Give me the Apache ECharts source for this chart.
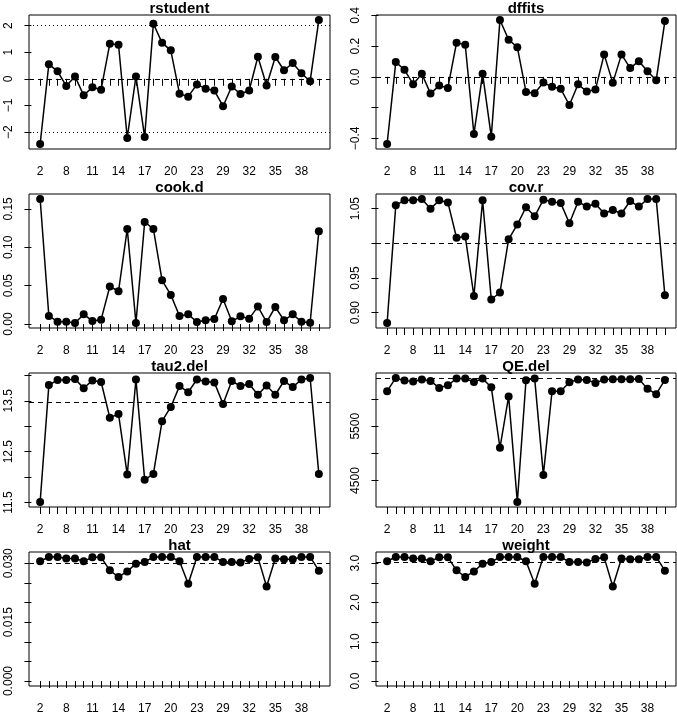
<!DOCTYPE html>
<html>
<head>
<meta charset="utf-8">
<script src="https://cdn.jsdelivr.net/npm/echarts@6/dist/echarts.min.js"></script>
<style>
  html, body { margin: 0; padding: 0; background: #fff; }
  #chart { width: 677px; height: 716px; }
</style>
</head>
<body>
<div id="chart"></div>
<script>
// study labels (only every third one is printed, like R drops overlapping labels)
const ids = [2, 4, 6, 8, 9, 10, 11, 12, 13, 14, 15, 16, 17, 18, 19, 20, 21, 22, 23,
  25, 27, 29, 30, 31, 32, 33, 34, 35, 36, 37, 38, 39, 40];

const rstudent = [-2.45, 0.55, 0.28, -0.27, 0.09, -0.62, -0.32, -0.41, 1.32, 1.28, -2.22,
  0.09, -2.19, 2.07, 1.35, 1.07, -0.56, -0.67, -0.21, -0.37, -0.44, -1.03, -0.29, -0.57,
  -0.44, 0.83, -0.25, 0.82, 0.32, 0.59, 0.21, -0.09, 2.21];
const dffits = [-0.437, 0.096, 0.046, -0.048, 0.020, -0.109, -0.057, -0.072, 0.222, 0.209,
  -0.372, 0.020, -0.389, 0.370, 0.241, 0.193, -0.098, -0.107, -0.037, -0.065, -0.078,
  -0.183, -0.048, -0.096, -0.083, 0.146, -0.039, 0.146, 0.057, 0.102, 0.037, -0.022, 0.363];
const cookD = [0.163, 0.0105, 0.003, 0.003, 0.0013, 0.0126, 0.004, 0.0057, 0.049, 0.0427,
  0.124, 0.0013, 0.133, 0.124, 0.057, 0.038, 0.0105, 0.0126, 0.0026, 0.0048, 0.0065,
  0.0327, 0.0035, 0.010, 0.007, 0.0227, 0.0026, 0.0222, 0.0048, 0.0126, 0.003, 0.0017, 0.121];
const covR = [0.885, 1.055, 1.062, 1.062, 1.064, 1.050, 1.062, 1.059, 1.008, 1.010, 0.924,
  1.062, 0.919, 0.929, 1.006, 1.027, 1.052, 1.039, 1.063, 1.060, 1.058, 1.029, 1.060,
  1.053, 1.057, 1.043, 1.048, 1.043, 1.061, 1.053, 1.064, 1.064, 0.925];
const tau2Del = [11.51, 13.81, 13.91, 13.91, 13.93, 13.75, 13.90, 13.87, 13.17, 13.24, 12.05,
  13.92, 11.95, 12.06, 13.10, 13.38, 13.79, 13.67, 13.92, 13.88, 13.86, 13.44, 13.89,
  13.79, 13.83, 13.62, 13.80, 13.62, 13.89, 13.77, 13.92, 13.95, 12.06];
const qeDel = [6146, 6390, 6341, 6323, 6360, 6335, 6207, 6256, 6378, 6378, 6317, 6378, 6220,
  5104, 6049, 4104, 6348, 6378, 4604, 6146, 6146, 6311, 6360, 6354, 6299, 6360, 6366,
  6366, 6366, 6372, 6189, 6091, 6354];
const hat = [0.0305, 0.0316, 0.0316, 0.0312, 0.0312, 0.0305, 0.0315, 0.0315, 0.0282, 0.0265,
  0.0279, 0.0299, 0.0303, 0.0316, 0.0316, 0.0316, 0.0305, 0.0248, 0.0316, 0.0316, 0.0316,
  0.0303, 0.0303, 0.0302, 0.0311, 0.0315, 0.0241, 0.0312, 0.0310, 0.0310, 0.0316, 0.0316, 0.0281];
const weight = [3.05, 3.16, 3.16, 3.12, 3.12, 3.05, 3.15, 3.15, 2.82, 2.65, 2.79, 2.99, 3.03,
  3.16, 3.16, 3.16, 3.05, 2.48, 3.16, 3.16, 3.16, 3.03, 3.03, 3.02, 3.11, 3.15, 2.41,
  3.12, 3.10, 3.10, 3.16, 3.16, 2.81];

// reference lines
const tau2Full = 13.47;
const qeFull = 6378;
const hatMean = 1 / 33;
const weightMean = 100 / 33;

// y ticks and the labels R kept
const yTicks = {
  rstudent: [-2, -1, 0, 1, 2],
  dffits: [-0.4, -0.2, 0, 0.2, 0.4],
  cookD: [0, 0.05, 0.1, 0.15],
  covR: [0.9, 0.95, 1, 1.05],
  tau2Del: [11.5, 12, 12.5, 13, 13.5, 14],
  qeDel: [4500, 5000, 5500, 6000],
  hat: [0, 0.005, 0.01, 0.015, 0.02, 0.025, 0.03],
  weight: [0, 0.5, 1, 1.5, 2, 2.5, 3]
};
const yLabels = {
  rstudent: [-2, -1, 0, 1, 2],
  dffits: [-0.4, 0, 0.2, 0.4],
  cookD: [0, 0.05, 0.1, 0.15],
  covR: [0.9, 0.95, 1.05],
  tau2Del: [11.5, 12.5, 13.5],
  qeDel: [4500, 5500],
  hat: [0, 0.015, 0.03],
  weight: [0, 1, 2, 3]
};

const font = 'Liberation Sans, Helvetica, Arial, sans-serif';
const k = ids.length;
const xTicks = ids.map((d, i) => i + 1);
const xLabels = xTicks.filter((d, i) => i % 3 === 0);

function rng(vals, lo) {
  let a = Math.min(...vals), b = Math.max(...vals);
  if (lo !== undefined) a = Math.min(a, lo);
  const d = (b - a) * 0.04;
  return [a - d, b + d];
}
function fmt(dec) {
  return v => v.toFixed(dec).replace('-', '\u2212');
}

const panels = [
  { name: 'rstudent', vals: rstudent, key: 'rstudent', dec: 0,
    lines: [{ y: 0, t: 'dashed' }, { y: 2, t: 'dotted' }, { y: -2, t: 'dotted' }] },
  { name: 'dffits', vals: dffits, key: 'dffits', dec: 1, lines: [{ y: 0, t: 'dashed' }] },
  { name: 'cook.d', vals: cookD, key: 'cookD', dec: 2, lines: [] },
  { name: 'cov.r', vals: covR, key: 'covR', dec: 2, lines: [{ y: 1, t: 'dashed' }] },
  { name: 'tau2.del', vals: tau2Del, key: 'tau2Del', dec: 1, lines: [{ y: tau2Full, t: 'dashed' }] },
  { name: 'QE.del', vals: qeDel, key: 'qeDel', dec: 0, lines: [{ y: qeFull, t: 'dashed' }] },
  { name: 'hat', vals: hat, key: 'hat', dec: 3, lo: 0, lines: [{ y: hatMean, t: 'dashed' }] },
  { name: 'weight', vals: weight, key: 'weight', dec: 1, lo: 0, lines: [{ y: weightMean, t: 'dashed' }] }
];

const colLeft = [29, 376];
const colWidth = [301, 300];
const rowTop = [15, 194, 373, 552];
const boxH = 134;

const grid = [], xAxis = [], yAxis = [], series = [], title = [];
panels.forEach((p, i) => {
  const c = i % 2, r = Math.floor(i / 2);
  grid.push({
    left: colLeft[c], top: rowTop[r], width: colWidth[c], height: boxH,
    show: true, borderColor: '#000', borderWidth: 1, backgroundColor: 'transparent'
  });
  title.push({
    text: p.name, left: colLeft[c] + colWidth[c] / 2, top: rowTop[r] - 14,
    textAlign: 'center', padding: 0,
    textStyle: { fontFamily: font, fontSize: 15, fontWeight: 'bold', color: '#000' }
  });
  xAxis.push({
    type: 'value', gridIndex: i, min: 1 - 0.04 * (k - 1), max: k + 0.04 * (k - 1),
    axisLine: { show: false },
    splitLine: { show: false },
    axisTick: { show: true, length: 7, inside: false, customValues: xTicks,
      lineStyle: { color: '#000', width: 1 } },
    axisLabel: { customValues: xLabels, formatter: v => String(ids[Math.round(v) - 1]),
      margin: 17, fontFamily: font, fontSize: 12, color: '#000' }
  });
  const yr = rng(p.vals, p.lo);
  yAxis.push({
    type: 'value', gridIndex: i, min: yr[0], max: yr[1],
    axisLine: { show: false },
    splitLine: { show: false },
    axisTick: { show: true, length: 7, customValues: yTicks[p.key],
      lineStyle: { color: '#000', width: 1 } },
    axisLabel: { customValues: yLabels[p.key], formatter: fmt(p.dec), rotate: 90,
      margin: 14, fontFamily: font, fontSize: 12, color: '#000' }
  });
  series.push({
    type: 'line', xAxisIndex: i, yAxisIndex: i,
    data: p.vals.map((v, j) => [j + 1, v]),
    symbol: 'circle', symbolSize: 8,
    itemStyle: { color: '#000' },
    lineStyle: { color: '#000', width: 1.5 },
    markLine: {
      silent: true, symbol: 'none', label: { show: false },
      data: p.lines.map(l => ({
        yAxis: l.y,
        lineStyle: { color: '#000', width: 1, type: l.t === 'dashed' ? [5, 4] : [1, 3] }
      }))
    },
    z: 3
  });
});

const chart = echarts.init(document.getElementById('chart'));
chart.setOption({
  animation: false,
  backgroundColor: '#fff',
  title, grid, xAxis, yAxis, series
});
</script>
</body>
</html>
